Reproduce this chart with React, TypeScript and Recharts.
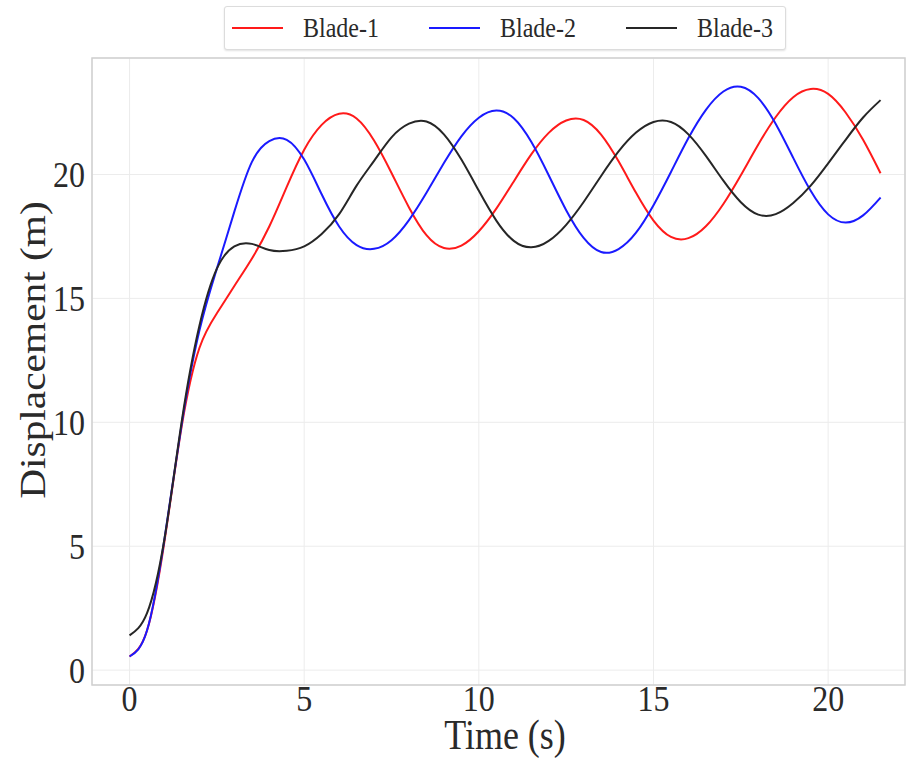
import { LineChart, Line, XAxis, YAxis, CartesianGrid, ReferenceArea } from 'recharts';

// time samples (s)
const time = [
  0, 0.5, 1, 1.5, 2, 2.5, 3, 3.5, 4, 4.5, 5, 5.5, 6, 6.5, 7, 7.5, 8, 8.5, 9, 9.5, 10, 10.5,
  11, 11.5, 12, 12.5, 13, 13.5, 14, 14.5, 15, 15.5, 16, 16.5, 17, 17.5, 18, 18.5, 19, 19.5, 20, 20.5, 21, 21.5,
];

// displacement (m) per blade
const blade1 = [
  0.55, 1.6, 5.2, 9.9, 13.0, 14.4, 15.5, 16.6, 17.9, 19.5, 21.0, 22.0, 22.45, 22.26, 21.37, 20.06, 18.67, 17.55, 17.03, 17.13, 17.71, 18.62,
  19.72, 20.81, 21.68, 22.18, 22.2, 21.61, 20.53, 19.26, 18.14, 17.48, 17.43, 17.91, 18.81, 19.97, 21.21, 22.32, 23.12, 23.45, 23.25, 22.5, 21.4, 20.05,
];
const blade2 = [
  0.55, 1.6, 5.3, 10.0, 13.7, 16.2, 18.5, 20.5, 21.35, 21.4, 20.6, 19.2, 17.9, 17.15, 17.0, 17.35, 18.16, 19.26, 20.46, 21.54, 22.29, 22.58,
  22.27, 21.32, 19.97, 18.56, 17.44, 16.87, 16.99, 17.65, 18.76, 20.1, 21.47, 22.61, 23.35, 23.54, 23.08, 22.04, 20.67, 19.34, 18.39, 18.06, 18.35, 19.07,
];
const blade3 = [
  1.4, 2.3, 5.3, 10.1, 13.9, 16.2, 17.1, 17.2, 16.95, 16.92, 17.1, 17.6, 18.4, 19.55, 20.55, 21.5, 22.05, 22.14, 21.62, 20.6, 19.34, 18.14,
  17.32, 17.06, 17.32, 17.97, 18.89, 19.94, 20.93, 21.69, 22.12, 22.12, 21.62, 20.75, 19.75, 18.88, 18.38, 18.4, 18.85, 19.55, 20.45, 21.4, 22.3, 23.0,
];

const xTicks = [0, 5, 10, 15, 20];
const yTicks = [0, 5, 10, 15, 20];

const seriesNames = ['Blade-1', 'Blade-2', 'Blade-3'];
const seriesColors = ['#ff1a1a', '#1a1aff', '#262626'];

const data = time.map((t, i) => ({ t, b1: blade1[i], b2: blade2[i], b3: blade3[i] }));

const FONT = '"Liberation Serif", "Times New Roman", serif';
const INK = '#2a2a2a';
// the source figure is slightly stretched vertically
const SY = 1.15;

const XTick = ({ x, y, payload }: any) => (
  <text transform={`translate(${x},${y}) scale(1,${SY})`} y={23} textAnchor="middle" fontFamily={FONT} fontSize={32} fill={INK}>
    {payload.value}
  </text>
);

const YTick = ({ x, y, payload }: any) => (
  <text transform={`translate(${x},${y}) scale(1,${SY})`} y={11} textAnchor="end" fontFamily={FONT} fontSize={32} fill={INK}>
    {payload.value}
  </text>
);

function LegendBox() {
  return (
    <div
      style={{
        position: 'absolute',
        left: 224,
        top: 6,
        width: 562,
        height: 44,
        display: 'flex',
        alignItems: 'center',
        border: '1px solid #dcdcdc',
        borderRadius: 3,
        boxShadow: '0 1px 2px rgba(0,0,0,0.12)',
        background: '#fff',
        fontFamily: FONT,
        fontSize: 24,
        color: INK,
        boxSizing: 'border-box',
        paddingLeft: 7,
        overflow: 'hidden',
      }}
    >
      {seriesNames.map((name, i) => (
        <div key={name} style={{ display: 'flex', alignItems: 'center', width: 197, flexShrink: 0 }}>
          <div style={{ width: 51, height: 2, background: seriesColors[i], marginRight: 20 }} />
          <span style={{ display: 'inline-block', transform: `scaleY(${SY})` }}>{name}</span>
        </div>
      ))}
    </div>
  );
}

export default function App() {
  return (
    <div style={{ position: 'absolute', left: 0, top: 0, width: 907, height: 758, background: '#fff' }}>
      <LineChart width={907} height={758} data={data} margin={{ top: 58, right: 2, bottom: 0, left: 0 }}>
        <CartesianGrid stroke="#ececec" strokeWidth={1} />
        <ReferenceArea x1={-1.075} x2={22.2} y1={-0.6} y2={24.7} fill="none" stroke="#cfcfcf" strokeWidth={1.5} ifOverflow="visible" />
        <XAxis
          dataKey="t"
          type="number"
          domain={[-1.075, 22.2]}
          ticks={xTicks}
          allowDataOverflow
          height={73}
          axisLine={false}
          tickLine={false}
          tickSize={0}
          tickMargin={0}
          tick={<XTick />}
          label={{
            content: () => (
              <text transform={`translate(505,749) scale(1,${SY})`} textAnchor="middle" fontFamily={FONT} fontSize={36} fill={INK}>
                Time (s)
              </text>
            ),
          }}
        />
        <YAxis
          type="number"
          domain={[-0.6, 24.7]}
          ticks={yTicks}
          allowDataOverflow
          width={92}
          axisLine={false}
          tickLine={false}
          tickSize={0}
          tickMargin={7}
          tick={<YTick />}
          label={{
            content: () => (
              <text
                transform={`translate(32,350) scale(1,${SY}) rotate(-90)`}
                textAnchor="middle"
                dominantBaseline="central"
                fontFamily={FONT}
                fontSize={36}
                fill={INK}
              >
                Displacement (m)
              </text>
            ),
          }}
        />
        <Line type="natural" dataKey="b1" name={seriesNames[0]} stroke={seriesColors[0]} strokeWidth={2} dot={false} isAnimationActive={false} />
        <Line type="natural" dataKey="b2" name={seriesNames[1]} stroke={seriesColors[1]} strokeWidth={2} dot={false} isAnimationActive={false} />
        <Line type="natural" dataKey="b3" name={seriesNames[2]} stroke={seriesColors[2]} strokeWidth={2} dot={false} isAnimationActive={false} />
      </LineChart>
      <LegendBox />
    </div>
  );
}
